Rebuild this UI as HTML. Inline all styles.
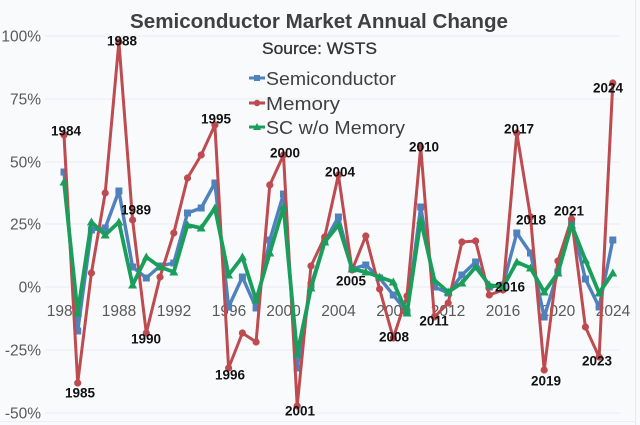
<!DOCTYPE html>
<html>
<head>
<meta charset="utf-8">
<style>
html,body{margin:0;padding:0;background:#f9fafc;}
svg{display:block;}
</style>
</head>
<body>
<svg width="640" height="425" viewBox="0 0 640 425" xmlns="http://www.w3.org/2000/svg" font-family="Liberation Sans, Arial, sans-serif">
<rect x="0" y="0" width="640" height="425" fill="#f9fafc"/>
<line x1="635.5" y1="0" x2="635.5" y2="425" stroke="#e6e8ee" stroke-width="1"/>
<line x1="0" y1="421.5" x2="636" y2="421.5" stroke="#eceef3" stroke-width="1"/>
<!-- gridlines -->
<g stroke="#eaecf1" stroke-width="1">
<line x1="45" y1="36" x2="620" y2="36"/>
<line x1="45" y1="99" x2="620" y2="99"/>
<line x1="45" y1="162" x2="620" y2="162"/>
<line x1="45" y1="224" x2="620" y2="224"/>
<line x1="45" y1="287" x2="620" y2="287"/>
<line x1="45" y1="350" x2="620" y2="350"/>
<line x1="45" y1="413" x2="620" y2="413"/>
</g>
<!-- title -->
<text x="319" y="28" text-anchor="middle" font-size="20" font-weight="bold" fill="#404040" textLength="378" lengthAdjust="spacingAndGlyphs">Semiconductor Market Annual Change</text>
<text x="319.5" y="54" text-anchor="middle" font-size="17" fill="#333" stroke="#333" stroke-width="0.3" textLength="115" lengthAdjust="spacingAndGlyphs">Source: WSTS</text>
<!-- y labels -->
<g font-size="15.5" fill="#595959" text-anchor="end">
<text x="41" y="41.5">100%</text>
<text x="41" y="104.5">75%</text>
<text x="41" y="167.5">50%</text>
<text x="41" y="229.5">25%</text>
<text x="41" y="292.5">0%</text>
<text x="41" y="355.5">-25%</text>
<text x="41" y="418.5">-50%</text>
</g>
<!-- x labels -->
<g font-size="15.5" fill="#595959" text-anchor="middle">
<text x="64" y="316">1984</text>
<text x="119" y="316">1988</text>
<text x="174" y="316">1992</text>
<text x="229" y="316">1996</text>
<text x="283.5" y="316">2000</text>
<text x="338.5" y="316">2004</text>
<text x="393.5" y="316">2008</text>
<text x="448" y="316">2012</text>
<text x="503" y="316">2016</text>
<text x="558" y="316">2020</text>
<text x="613" y="316">2024</text>
</g>
<!-- legend -->
<g>
<line x1="249" y1="78" x2="265" y2="78" stroke="#4f81bd" stroke-width="3"/>
<rect x="254" y="75" width="6" height="6" fill="#4f81bd"/>
<line x1="249" y1="103" x2="265" y2="103" stroke="#bd4b4f" stroke-width="3"/>
<circle cx="257" cy="103" r="3.2" fill="#bd4b4f"/>
<line x1="249" y1="127" x2="265" y2="127" stroke="#1a9e5c" stroke-width="3"/>
<polygon points="257,123 261,130 253,130" fill="#1a9e5c"/>
<g font-size="18" fill="#404040">
<text x="266" y="85" textLength="130" lengthAdjust="spacingAndGlyphs">Semiconductor</text>
<text x="266" y="110" textLength="74" lengthAdjust="spacingAndGlyphs">Memory</text>
<text x="266" y="134" textLength="139" lengthAdjust="spacingAndGlyphs">SC w/o Memory</text>
</g>
</g>
<!-- Semiconductor (blue) -->
<g>
<polyline fill="none" stroke="#4f81bd" stroke-width="3.4" stroke-linejoin="round" points="64,172 77.7,331 91.4,230 105.2,228 118.9,191 132.6,267 146.3,278 160,266 173.8,263 187.5,213 201.2,208 214.9,183 228.6,307 242.4,277 256.1,308 269.8,240 283.5,194 297.2,368 311,285 324.7,242 338.4,217 352.1,269 365.8,265 379.6,278 393.3,295 407,312 420.7,207 434.4,287 448.2,293 461.9,275 475.6,262 489.3,287 503,285 516.8,233 530.5,253 544.2,317 557.9,272 571.6,222 585.4,279 599.1,307 612.8,240"/>
<g fill="#4f81bd">
<rect x="60.5" y="168.5" width="7" height="7"/><rect x="74.2" y="327.5" width="7" height="7"/><rect x="87.9" y="226.5" width="7" height="7"/><rect x="101.7" y="224.5" width="7" height="7"/><rect x="115.4" y="187.5" width="7" height="7"/><rect x="129.1" y="263.5" width="7" height="7"/><rect x="142.8" y="274.5" width="7" height="7"/><rect x="156.5" y="262.5" width="7" height="7"/><rect x="170.3" y="259.5" width="7" height="7"/><rect x="184" y="209.5" width="7" height="7"/><rect x="197.7" y="204.5" width="7" height="7"/><rect x="211.4" y="179.5" width="7" height="7"/><rect x="225.1" y="303.5" width="7" height="7"/><rect x="238.9" y="273.5" width="7" height="7"/><rect x="252.6" y="304.5" width="7" height="7"/><rect x="266.3" y="236.5" width="7" height="7"/><rect x="280" y="190.5" width="7" height="7"/><rect x="293.7" y="364.5" width="7" height="7"/><rect x="307.5" y="281.5" width="7" height="7"/><rect x="321.2" y="238.5" width="7" height="7"/><rect x="334.9" y="213.5" width="7" height="7"/><rect x="348.6" y="265.5" width="7" height="7"/><rect x="362.3" y="261.5" width="7" height="7"/><rect x="376.1" y="274.5" width="7" height="7"/><rect x="389.8" y="291.5" width="7" height="7"/><rect x="403.5" y="308.5" width="7" height="7"/><rect x="417.2" y="203.5" width="7" height="7"/><rect x="430.9" y="283.5" width="7" height="7"/><rect x="444.7" y="289.5" width="7" height="7"/><rect x="458.4" y="271.5" width="7" height="7"/><rect x="472.1" y="258.5" width="7" height="7"/><rect x="485.8" y="283.5" width="7" height="7"/><rect x="499.5" y="281.5" width="7" height="7"/><rect x="513.3" y="229.5" width="7" height="7"/><rect x="527" y="249.5" width="7" height="7"/><rect x="540.7" y="313.5" width="7" height="7"/><rect x="554.4" y="268.5" width="7" height="7"/><rect x="568.1" y="218.5" width="7" height="7"/><rect x="581.9" y="275.5" width="7" height="7"/><rect x="595.6" y="303.5" width="7" height="7"/><rect x="609.3" y="236.5" width="7" height="7"/>
</g>
</g>
<!-- Memory (red) -->
<g>
<polyline fill="none" stroke="#bd4b4f" stroke-width="3" stroke-linejoin="round" points="64,135 77.7,383 91.4,273 105.2,193 118.9,42 132.6,220 146.3,333 160,277 173.8,233 187.5,178 201.2,155 214.9,125 228.6,368 242.4,333 256.1,342 269.8,185 283.5,155 297.2,406 311,266 324.7,237 338.4,175 352.1,270 365.8,236 379.6,289 393.3,338 407,296 420.7,147 434.4,317 448.2,303 461.9,242 475.6,241 489.3,295 503,290 516.8,133 530.5,217 544.2,370 557.9,261 571.6,219 585.4,327 599.1,357 612.8,83"/>
<g fill="#bd4b4f">
<circle cx="64" cy="135" r="3.6"/><circle cx="77.7" cy="383" r="3.6"/><circle cx="91.4" cy="273" r="3.6"/><circle cx="105.2" cy="193" r="3.6"/><circle cx="118.9" cy="42" r="3.6"/><circle cx="132.6" cy="220" r="3.6"/><circle cx="146.3" cy="333" r="3.6"/><circle cx="160" cy="277" r="3.6"/><circle cx="173.8" cy="233" r="3.6"/><circle cx="187.5" cy="178" r="3.6"/><circle cx="201.2" cy="155" r="3.6"/><circle cx="214.9" cy="125" r="3.6"/><circle cx="228.6" cy="368" r="3.6"/><circle cx="242.4" cy="333" r="3.6"/><circle cx="256.1" cy="342" r="3.6"/><circle cx="269.8" cy="185" r="3.6"/><circle cx="283.5" cy="155" r="3.6"/><circle cx="297.2" cy="406" r="3.6"/><circle cx="311" cy="266" r="3.6"/><circle cx="324.7" cy="237" r="3.6"/><circle cx="338.4" cy="175" r="3.6"/><circle cx="352.1" cy="270" r="3.6"/><circle cx="365.8" cy="236" r="3.6"/><circle cx="379.6" cy="289" r="3.6"/><circle cx="393.3" cy="338" r="3.6"/><circle cx="407" cy="296" r="3.6"/><circle cx="420.7" cy="147" r="3.6"/><circle cx="434.4" cy="317" r="3.6"/><circle cx="448.2" cy="303" r="3.6"/><circle cx="461.9" cy="242" r="3.6"/><circle cx="475.6" cy="241" r="3.6"/><circle cx="489.3" cy="295" r="3.6"/><circle cx="503" cy="290" r="3.6"/><circle cx="516.8" cy="133" r="3.6"/><circle cx="530.5" cy="217" r="3.6"/><circle cx="544.2" cy="370" r="3.6"/><circle cx="557.9" cy="261" r="3.6"/><circle cx="571.6" cy="219" r="3.6"/><circle cx="585.4" cy="327" r="3.6"/><circle cx="599.1" cy="357" r="3.6"/><circle cx="612.8" cy="83" r="3.6"/>
</g>
</g>
<!-- SC w/o Memory (green) -->
<g>
<polyline fill="none" stroke="#1a9e5c" stroke-width="3.8" stroke-linejoin="round" points="64,182 77.7,313 91.4,222 105.2,235 118.9,222 132.6,285 146.3,257 160,267 173.8,272 187.5,225 201.2,228 214.9,208 228.6,275 242.4,257 256.1,300 269.8,253 283.5,207 297.2,354 311,288 324.7,242 338.4,225 352.1,269 365.8,272 379.6,277 393.3,282 407,313 420.7,220 434.4,280 448.2,292 461.9,283 475.6,267 489.3,285 503,287 516.8,262 530.5,268 544.2,292 557.9,273 571.6,225 585.4,260 599.1,293 612.8,273"/>
<g fill="#1a9e5c">
<polygon points="64,177.5 68.5,185.5 59.5,185.5"/><polygon points="77.7,308.5 82.2,316.5 73.2,316.5"/><polygon points="91.4,217.5 95.9,225.5 86.9,225.5"/><polygon points="105.2,230.5 109.7,238.5 100.7,238.5"/><polygon points="118.9,217.5 123.4,225.5 114.4,225.5"/><polygon points="132.6,280.5 137.1,288.5 128.1,288.5"/><polygon points="146.3,252.5 150.8,260.5 141.8,260.5"/><polygon points="160,262.5 164.5,270.5 155.5,270.5"/><polygon points="173.8,267.5 178.3,275.5 169.3,275.5"/><polygon points="187.5,220.5 192,228.5 183,228.5"/><polygon points="201.2,223.5 205.7,231.5 196.7,231.5"/><polygon points="214.9,203.5 219.4,211.5 210.4,211.5"/><polygon points="228.6,270.5 233.1,278.5 224.1,278.5"/><polygon points="242.4,252.5 246.9,260.5 237.9,260.5"/><polygon points="256.1,295.5 260.6,303.5 251.6,303.5"/><polygon points="269.8,248.5 274.3,256.5 265.3,256.5"/><polygon points="283.5,202.5 288,210.5 279,210.5"/><polygon points="297.2,349.5 301.7,357.5 292.7,357.5"/><polygon points="311,283.5 315.5,291.5 306.5,291.5"/><polygon points="324.7,237.5 329.2,245.5 320.2,245.5"/><polygon points="338.4,220.5 342.9,228.5 333.9,228.5"/><polygon points="352.1,264.5 356.6,272.5 347.6,272.5"/><polygon points="365.8,267.5 370.3,275.5 361.3,275.5"/><polygon points="379.6,272.5 384.1,280.5 375.1,280.5"/><polygon points="393.3,277.5 397.8,285.5 388.8,285.5"/><polygon points="407,308.5 411.5,316.5 402.5,316.5"/><polygon points="420.7,215.5 425.2,223.5 416.2,223.5"/><polygon points="434.4,275.5 438.9,283.5 429.9,283.5"/><polygon points="448.2,287.5 452.7,295.5 443.7,295.5"/><polygon points="461.9,278.5 466.4,286.5 457.4,286.5"/><polygon points="475.6,262.5 480.1,270.5 471.1,270.5"/><polygon points="489.3,280.5 493.8,288.5 484.8,288.5"/><polygon points="503,282.5 507.5,290.5 498.5,290.5"/><polygon points="516.8,257.5 521.3,265.5 512.3,265.5"/><polygon points="530.5,263.5 535,271.5 526,271.5"/><polygon points="544.2,287.5 548.7,295.5 539.7,295.5"/><polygon points="557.9,268.5 562.4,276.5 553.4,276.5"/><polygon points="571.6,220.5 576.1,228.5 567.1,228.5"/><polygon points="585.4,255.5 589.9,263.5 580.9,263.5"/><polygon points="599.1,288.5 603.6,296.5 594.6,296.5"/><polygon points="612.8,268.5 617.3,276.5 608.3,276.5"/>
</g>
</g>
<!-- data labels -->
<g font-size="13.5" font-weight="bold" fill="#111" text-anchor="middle">
<text x="66" y="135.5">1984</text>
<text x="122" y="45.5">1988</text>
<text x="136" y="214.5">1989</text>
<text x="216" y="123.5">1995</text>
<text x="285" y="157.5">2000</text>
<text x="80" y="397.5">1985</text>
<text x="146" y="343.5">1990</text>
<text x="230" y="379.5">1996</text>
<text x="300" y="415.5">2001</text>
<text x="340" y="176.5">2004</text>
<text x="424" y="151.5">2010</text>
<text x="519" y="133.5">2017</text>
<text x="608" y="92.5">2024</text>
<text x="569" y="215.5">2021</text>
<text x="531" y="224.5">2018</text>
<text x="351" y="285.5">2005</text>
<text x="394" y="341.5">2008</text>
<text x="434" y="325.5">2011</text>
<text x="510" y="291.5">2016</text>
<text x="546" y="385.5">2019</text>
<text x="597" y="365.5">2023</text>
</g>
</svg>
</body>
</html>
